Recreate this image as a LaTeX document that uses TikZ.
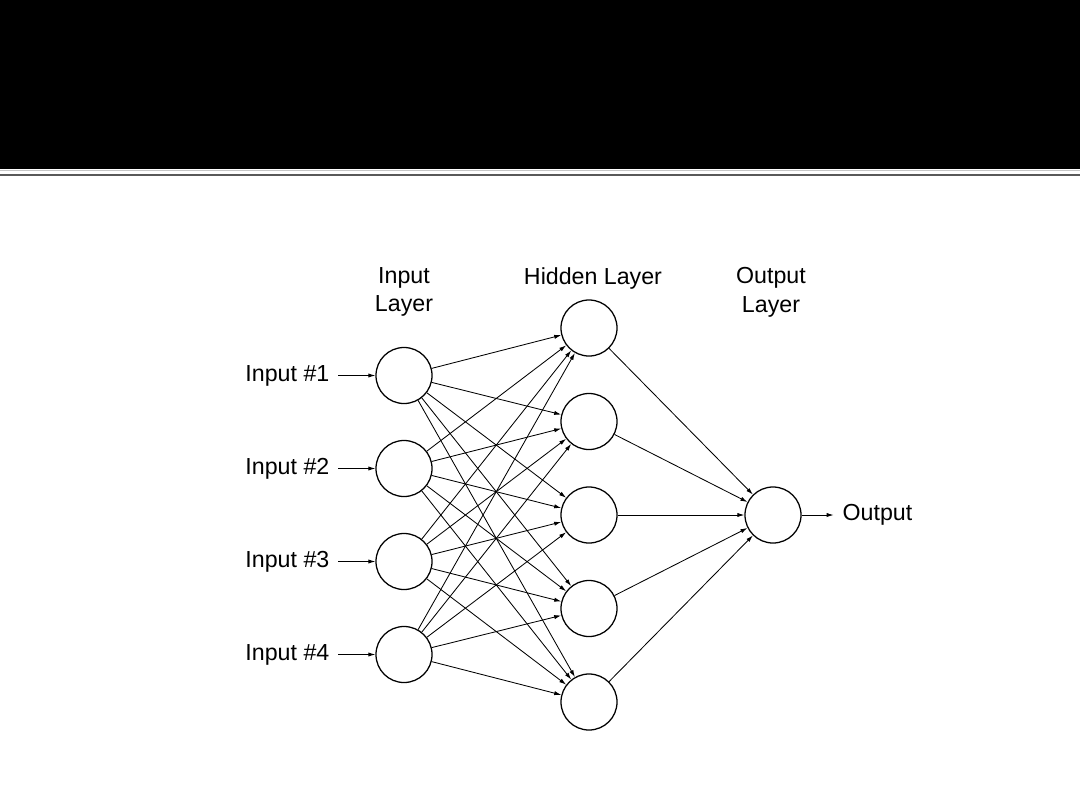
\documentclass[tikz,border=0pt]{standalone}
\usepackage{fontspec}
\setsansfont{Liberation Sans}
\usetikzlibrary{arrows.meta,positioning}

\begin{document}
\begin{tikzpicture}[x=0.025cm, y=-0.025cm, font=\sffamily\fontsize{16.5}{20.5}\selectfont,
  neuron/.style={draw, circle, line width=0.9pt, minimum size=1.4cm, inner sep=0pt},
  lbl/.style={inner ysep=0.5em, inner xsep=0.62em},
  link/.style={line width=0.6pt, -{Latex[length=5pt,width=3pt]}}]
\useasboundingbox (0,0) rectangle (1080,810);
\fill[black] (0,0) rectangle (1080,169);
\draw[gray!45, line width=0.7pt] (0,170) -- (1080,170); \draw[gray!70!black, line width=1.2pt] (0,175) -- (1080,175);
% layer titles
\node[align=center] (tin) at (404,292) {Input\\Layer}; \node (thid) at (593,278) {Hidden Layer}; \node[align=center] (tout) at (771,292) {Output\\Layer};
% neurons
\foreach \y [count=\i] in {375.5,468.5,561.5,654.5} \node[neuron] (in\i) at (404,\y) {};
\foreach \y [count=\j] in {328,421.5,515,608.5,702} \node[neuron] (hid\j) at (589,\y) {};
\node[neuron] (out) at (773,515) {};
% inputs and output
\foreach \i in {1,...,4} {\node[lbl, left=0.925cm of in\i] (lab\i) {Input \#\i}; \draw[link] (lab\i) -- (in\i);}
\node[lbl, right=0.8cm of out] (outlab) {Output}; \draw[link] (out) -- (outlab);
% weights
\foreach \i in {1,...,4} \foreach \j in {1,...,5} \draw[link] (in\i) -- (hid\j);
\foreach \j in {1,...,5} \draw[link] (hid\j) -- (out);
\end{tikzpicture}
\end{document}
